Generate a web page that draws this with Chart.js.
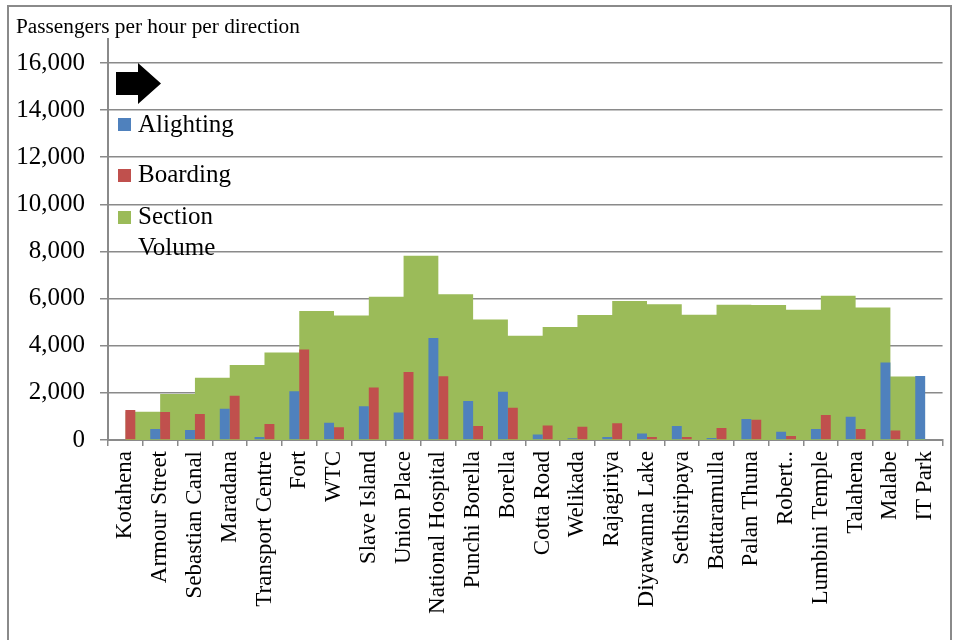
<!DOCTYPE html>
<html>
<head>
<meta charset="utf-8">
<title>Passenger flow by station</title>
<script src="https://cdn.jsdelivr.net/npm/chart.js@4"></script>
<style>
  html, body { margin: 0; padding: 0; background: #fff; }
  #frame {
    position: absolute; left: 7px; top: 5px; width: 945px; height: 700px;
    border: 2px solid #8a8a8a; box-sizing: border-box;
  }
  #wrap { position: absolute; left: 0; top: 0; width: 958px; height: 640px; }
  #legend {
    position: absolute; left: 0; top: 0;
    font-family: "Liberation Serif", "Times New Roman", serif; font-size: 25px; color: #000;
  }
  #legend .arrow { position: absolute; left: 116px; top: 62px; }
  #legend .item { position: absolute; left: 118px; line-height: 31px; white-space: normal; }
  #legend .swatch { position: absolute; left: 0; top: 10.5px; width: 13px; height: 13px; }
  #legend .text { display: block; margin-left: 20px; width: 110px; }
</style>
</head>
<body>
<div id="frame"></div>
<div id="wrap">
  <canvas id="flow-chart" width="958" height="640"></canvas>
  <div id="legend">
    <svg class="arrow" width="46" height="44" viewBox="0 0 46 44">
      <polygon points="0,10 22,10 22,1 45,21.5 22,42 22,33 0,33" fill="#000"/>
    </svg>
  </div>
</div>
<script>
// Stations along the line, in running order
const stations = [
  "Kotahena", "Armour Street", "Sebastian Canal", "Maradana", "Transport Centre",
  "Fort", "WTC", "Slave Island", "Union Place", "National Hospital",
  "Punchi Borella", "Borella", "Cotta Road", "Welikada", "Rajagiriya",
  "Diyawanna Lake", "Sethsiripaya", "Battaramulla", "Palan Thuna", "Robert..",
  "Lumbini Temple", "Talahena", "Malabe", "IT Park",
];

// Passengers per hour per direction, one value per station
const alighting = [
  0, 470, 420, 1330, 130, 2070, 730, 1430, 1170, 4330,
  1650, 2050, 230, 70, 130, 280, 590, 80, 890, 350,
  470, 990, 3290, 2720,
];
const boarding = [
  1270, 1190, 1100, 1880, 680, 3840, 540, 2230, 2890, 2710,
  590, 1370, 620, 560, 710, 130, 130, 510, 860, 170,
  1060, 470, 400, 0,
];

// Section volume: load on the train leaving each station (nothing leaves the terminus)
const sectionVolume = [
  1200, 1950, 2640, 3180, 3710, 5470, 5280, 6080, 7820, 6190,
  5110, 4420, 4800, 5310, 5900, 5760, 5320, 5740, 5730, 5530,
  6120, 5620, 2700, 0,
];

// y axis runs a little past the last labelled tick
const yTicks = [0, 2000, 4000, 6000, 8000, 10000, 12000, 14000, 16000];
const Y_MAX = 17000;

const COLORS = { alight: "#4F81BD", board: "#C0504D", section: "#9BBB59" };
const AXIS_GREY = "#8a8a8a";
const SERIF = "'Liberation Serif', 'Times New Roman', serif";

const datasets = [
  {
    label: "Alighting",
    data: alighting,
    backgroundColor: COLORS.alight,
    barPercentage: 1,
    categoryPercentage: 0.57,
    order: 0,
  },
  {
    label: "Boarding",
    data: boarding,
    backgroundColor: COLORS.board,
    barPercentage: 1,
    categoryPercentage: 0.57,
    order: 0,
  },
  {
    // stepped area: each section's load holds from one station to the next
    type: "line",
    label: "Section Volume",
    data: sectionVolume,
    stepped: "before",
    fill: "origin",
    backgroundColor: COLORS.section,
    borderColor: "rgba(0,0,0,0)",
    borderWidth: 0,
    pointRadius: 0,
    order: 1,
  },
];

const chart = new Chart(document.getElementById("flow-chart"), {
  type: "bar",
  data: { labels: stations, datasets },
  options: {
    responsive: false,
    animation: false,
    events: [],
    layout: { padding: { left: 16, right: 11, top: 0, bottom: 0 } },
    plugins: {
      legend: { display: false },
      tooltip: { enabled: false },
      title: {
        display: true,
        text: "Passengers per hour per direction",
        align: "start",
        color: "#000",
        font: { family: SERIF, size: 21.3, weight: "normal", lineHeight: 1.1 },
        padding: { top: 16, bottom: 0 },
      },
    },
    scales: {
      x: {
        type: "category",
        offset: true,
        grid: { offset: true, drawOnChartArea: false, color: AXIS_GREY, lineWidth: 1.5, tickLength: 6 },
        border: { color: AXIS_GREY, width: 2 },
        ticks: {
          autoSkip: false,
          minRotation: 90,
          maxRotation: 90,
          padding: 5,
          color: "#000",
          font: { family: SERIF, size: 23 },
        },
        afterFit: (scale) => { scale.height = 200; },
      },
      y: {
        min: 0,
        max: Y_MAX,
        grid: { color: AXIS_GREY, lineWidth: 1.5, tickLength: 8 },
        border: { color: AXIS_GREY, width: 2 },
        afterBuildTicks: (scale) => { scale.ticks = yTicks.map((value) => ({ value })); },
        ticks: {
          padding: 15,
          color: "#000",
          font: { family: SERIF, size: 25 },
          callback: (v) => Number(v).toLocaleString("en-US"),
        },
        afterFit: (scale) => { scale.width = 92; },
      },
    },
  },
});

// Legend in the top-left corner of the plot, built from the datasets
const legendTops = [107.8, 158, 200];
const legendEl = document.getElementById("legend");
chart.data.datasets.forEach((ds, i) => {
  const item = document.createElement("div");
  item.className = "item";
  item.style.top = legendTops[i] + "px";
  const sw = document.createElement("span");
  sw.className = "swatch";
  sw.style.background = ds.backgroundColor;
  const txt = document.createElement("span");
  txt.className = "text";
  txt.textContent = ds.label;
  item.appendChild(sw);
  item.appendChild(txt);
  legendEl.appendChild(item);
});
</script>
</body>
</html>
